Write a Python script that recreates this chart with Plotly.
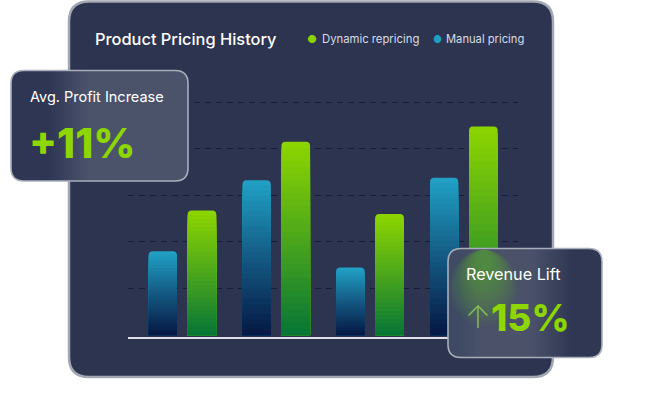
import plotly.graph_objects as go

# ---------------- data ----------------
categories = ["P1", "P2", "P3", "P4"]
manual_pricing = [36, 66.5, 29, 67.5]
dynamic_repricing = [53.5, 83, 52, 89.5]
series_names = ["Dynamic repricing", "Manual pricing"]
title_text = "Product Pricing History"
kpi_profit_label = "Avg. Profit Increase"
kpi_profit_value = "+11%"
kpi_revenue_label = "Revenue Lift"
kpi_revenue_value = "15%"

# ---------------- geometry ----------------
W, H = 651, 409
ML, MR, MT, MB = 128, 133, 94, 72
PW, PH = W - ML - MR, H - MT - MB


def px(x):
    return (x - ML) / PW


def py(y):
    return 1 - (y - MT) / PH


def rrect_path(x0, y0, x1, y1, r, left=True, right=True):
    rl = r if left else 0
    rr = r if right else 0
    pts = []
    pts.append(f"M{px(x0 + rl)},{py(y0)}")
    pts.append(f"L{px(x1 - rr)},{py(y0)}")
    if rr:
        pts.append(f"Q{px(x1)},{py(y0)} {px(x1)},{py(y0 + rr)}")
    pts.append(f"L{px(x1)},{py(y1 - rr)}")
    if rr:
        pts.append(f"Q{px(x1)},{py(y1)} {px(x1 - rr)},{py(y1)}")
    pts.append(f"L{px(x0 + rl)},{py(y1)}")
    if rl:
        pts.append(f"Q{px(x0)},{py(y1)} {px(x0)},{py(y1 - rl)}")
    pts.append(f"L{px(x0)},{py(y0 + rl)}")
    if rl:
        pts.append(f"Q{px(x0)},{py(y0)} {px(x0 + rl)},{py(y0)}")
    pts.append("Z")
    return " ".join(pts)


def hex2rgb(h):
    h = h.lstrip("#")
    return tuple(int(h[i:i + 2], 16) for i in (0, 2, 4))


def mix(stops, t):
    for i in range(len(stops) - 1):
        p0, c0 = stops[i]
        p1, c1 = stops[i + 1]
        if p0 <= t <= p1:
            f = (t - p0) / (p1 - p0) if p1 > p0 else 0
            a, b = hex2rgb(c0), hex2rgb(c1)
            return "rgb(%d,%d,%d)" % tuple(round(a[j] + (b[j] - a[j]) * f) for j in range(3))
    return "rgb(%d,%d,%d)" % hex2rgb(stops[-1][1])


# gradient stops: position 0 = bottom, 1 = top of bar
manual_stops = [(0, "#051843"), (0.5, "#145A83"), (1, "#21A2C6")]
dynamic_stops = [(0, "#067537"), (0.5, "#4CA71B"), (1, "#8ED600")]

fig = go.Figure()

N = 30
for stops, vals, off, wid in [
    (manual_stops, manual_pricing, -0.36, 0.30),
    (dynamic_stops, dynamic_repricing, 0.055, 0.305),
]:
    for k in range(N):
        frac = 1 - k / N
        fig.add_trace(go.Bar(
            x=categories,
            y=[v * frac for v in vals],
            offset=off,
            width=wid,
            marker=dict(color=mix(stops, frac - 0.5 / N), line=dict(width=0),
                        cornerradius=4 if k == 0 else 0),
            showlegend=False,
            hoverinfo="skip",
        ))

shapes = []
# main card
shapes.append(dict(type="path", xref="paper", yref="paper", layer="below",
                   path=rrect_path(69, 1.5, 553, 377, 20),
                   fillcolor="#2C3450", line=dict(color="#A3A7B3", width=2.5)))

# Avg profit card (glass, left dark -> right lighter)
ax0, ay0, ax1, ay1 = 11, 70.5, 188, 181
shapes.append(dict(type="path", xref="paper", yref="paper", layer="above",
                   path=rrect_path(ax0, ay0, ax1, ay1, 13),
                   fillcolor="#4B536B", line=dict(width=0)))
shapes.append(dict(type="path", xref="paper", yref="paper", layer="above",
                   path=rrect_path(ax0, ay0, 48, ay1, 13, right=False),
                   fillcolor="#2E3654", line=dict(width=0)))
nstr = 10
for i in range(nstr):
    xa = 48 + i * 4
    shapes.append(dict(type="rect", xref="paper", yref="paper", layer="above",
                       x0=px(xa - 0.3), x1=px(xa + 4.3), y0=py(ay1), y1=py(ay0),
                       fillcolor=mix([(0, "#2E3654"), (1, "#4B536B")], (i + 0.5) / nstr),
                       line=dict(width=0)))
shapes.append(dict(type="path", xref="paper", yref="paper", layer="above",
                   path=rrect_path(ax0, ay0, ax1, ay1, 13),
                   fillcolor="rgba(0,0,0,0)", line=dict(color="#A9AEBA", width=1.6)))

# Revenue card
rx0, ry0, rx1, ry1 = 448, 248.5, 602, 357.5
shapes.append(dict(type="path", xref="paper", yref="paper", layer="above",
                   path=rrect_path(rx0, ry0, rx1, ry1, 13),
                   fillcolor="#4A5169", line=dict(width=0)))
shapes.append(dict(type="path", xref="paper", yref="paper", layer="above",
                   path=rrect_path(rx0, ry0, 462, ry1, 13, right=False),
                   fillcolor="#3F4B65", line=dict(width=0)))
for i in range(6):
    xa = 462 + i * 3
    shapes.append(dict(type="rect", xref="paper", yref="paper", layer="above",
                       x0=px(xa - 0.3), x1=px(xa + 3.3), y0=py(ry1), y1=py(ry0),
                       fillcolor=mix([(0, "#3F4B65"), (1, "#4A5169")], (i + 0.5) / 6),
                       line=dict(width=0)))
shapes.append(dict(type="path", xref="paper", yref="paper", layer="above",
                   path=rrect_path(572, ry0, rx1, ry1, 13, left=False),
                   fillcolor="#2F3753", line=dict(width=0)))
for i in range(10):
    xa = 532 + i * 4
    shapes.append(dict(type="rect", xref="paper", yref="paper", layer="above",
                       x0=px(xa - 0.3), x1=px(xa + 4.3), y0=py(ry1), y1=py(ry0),
                       fillcolor=mix([(0, "#4A5169"), (1, "#2F3753")], (i + 0.5) / 10),
                       line=dict(width=0)))
# soft green glow from the bar behind the glass card
nglow = 14
for i in range(nglow):
    t = i / (nglow - 1)
    rxx = 34 - 26 * t
    ryy = 58 - 44 * t
    cx, cy = 484, 260 + 8 * (1 - t)
    shapes.append(dict(type="circle", xref="paper", yref="paper", layer="above",
                       x0=px(max(cx - rxx, rx0 + 1)), x1=px(cx + rxx),
                       y0=py(min(cy + ryy, ry1 - 2)), y1=py(max(cy - ryy, ry0 + 1)),
                       fillcolor="#5CBB2E", opacity=0.05, line=dict(width=0)))
shapes.append(dict(type="path", xref="paper", yref="paper", layer="above",
                   path=rrect_path(rx0, ry0, rx1, ry1, 13),
                   fillcolor="rgba(0,0,0,0)", line=dict(color="#A9AEBA", width=1.6)))

annotations = []


def ann(text, x, y, size, color, weight=400, family="Inter", xanchor="left"):
    annotations.append(dict(text=text, x=px(x), y=py(y), xref="paper", yref="paper",
                            xanchor=xanchor, yanchor="middle", showarrow=False,
                            font=dict(size=size, color=color, family=family, weight=weight)))


ann(title_text, 93, 38.5, 16.4, "#FFFFFF", weight=500)
ann("●", 305, 39, 11, "#8CD100")
ann(series_names[0], 320, 39, 11.3, "#D8DCE4")
ann("●", 431, 39, 10, "#1F9FC5")
ann(series_names[1], 444, 39, 11.2, "#D8DCE4")
ann(kpi_profit_label, 28, 97, 14.5, "#FFFFFF")
ann(kpi_profit_value, 27, 143, 41, "#8ED600", weight=800)
ann(kpi_revenue_label, 464, 273.5, 16.2, "#FFFFFF")
ann("↑", 463, 316, 31, "#86C450", weight=200)
ann(kpi_revenue_value, 489, 317, 37, "#8ED600", weight=800)

fig.update_layout(
    width=W, height=H,
    margin=dict(l=ML, r=MR, t=MT, b=MB, pad=0),
    paper_bgcolor="#FFFFFF",
    plot_bgcolor="rgba(0,0,0,0)",
    barmode="overlay",
    showlegend=False,
    shapes=shapes,
    annotations=annotations,
    xaxis=dict(range=[-0.581, 3.577], showticklabels=False, ticks="", showgrid=False,
               showline=True, linecolor="#DDE0E7", linewidth=2, zeroline=False, fixedrange=True),
    yaxis=dict(range=[-0.8, 103.5], tickvals=[20, 40, 60, 80, 100], showticklabels=False,
               ticks="", showgrid=True, gridcolor="#161C3A", gridwidth=1, griddash="6px,5px",
               zeroline=False, showline=False, fixedrange=True),
    font=dict(family="Inter"),
)

fig.write_html("out.html", config={"displayModeBar": False})
